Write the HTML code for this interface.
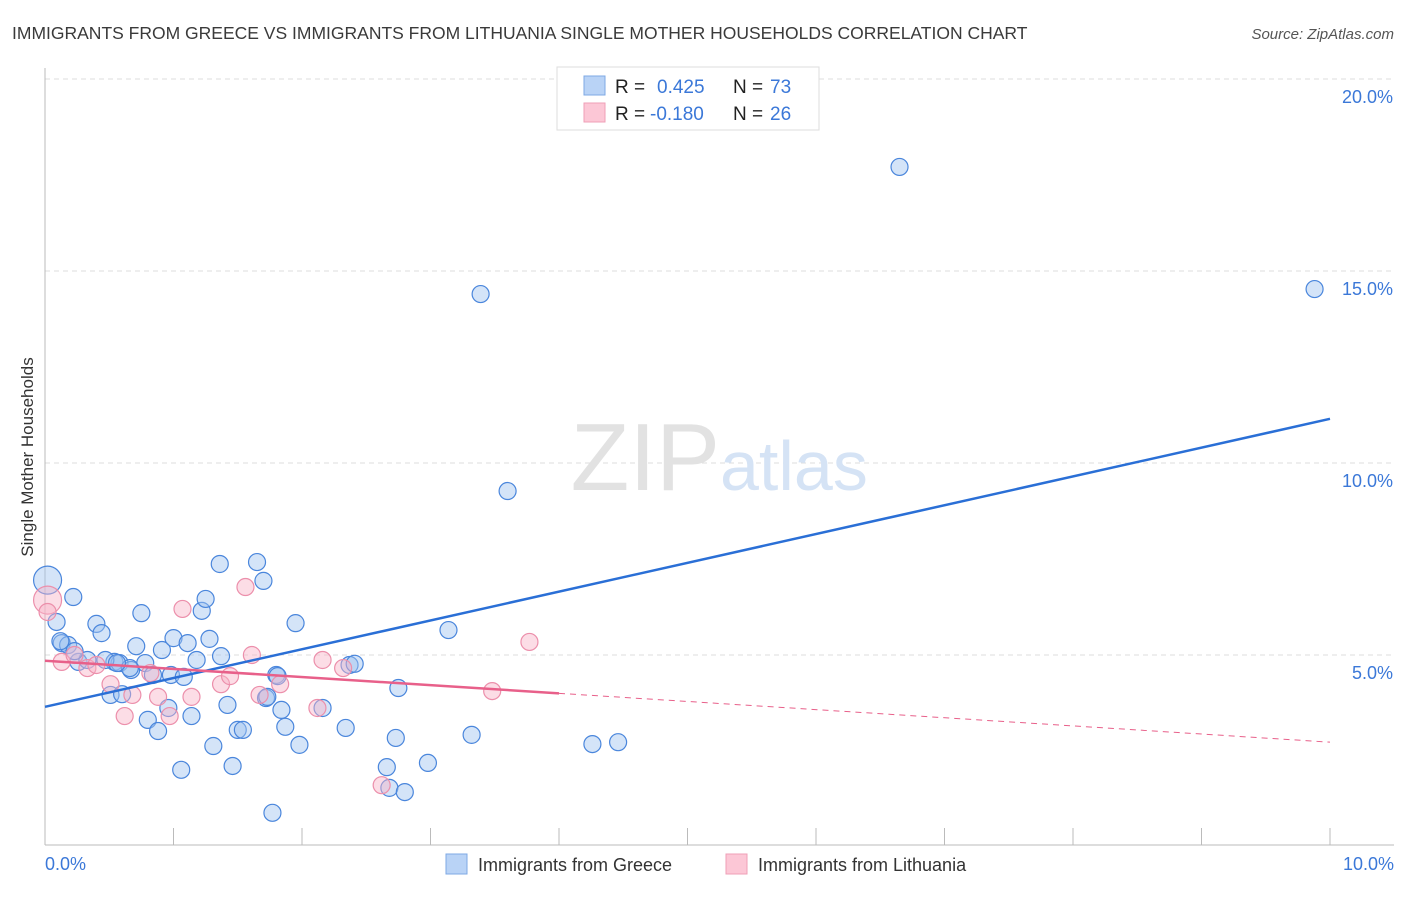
<!DOCTYPE html>
<html><head><meta charset="utf-8"><style>
body{margin:0;background:#fff;font-family:"Liberation Sans",sans-serif}
svg text{font-family:"Liberation Sans",sans-serif}
</style></head><body>
<svg id="c" width="1406" height="892">
<text x="12" y="39" font-size="17.5" fill="#3a3a3a">IMMIGRANTS FROM GREECE VS IMMIGRANTS FROM LITHUANIA SINGLE MOTHER HOUSEHOLDS CORRELATION CHART</text>
<text x="1394" y="39" font-size="15" fill="#555" font-style="italic" text-anchor="end">Source: ZipAtlas.com</text>
<text x="33" y="457" font-size="17" fill="#333" transform="rotate(-90 33 457)" text-anchor="middle">Single Mother Households</text>
<g id="grid"></g>
<text x="720" y="490" font-size="96" fill="#e2e2e2" text-anchor="end" font-family="Liberation Serif">ZIP</text>
<text x="720" y="490" font-size="70" fill="#d5e3f5">atlas</text>
<g id="pts"></g>
<g id="lines"></g>
<g>
<rect x="557" y="67" width="262" height="63" fill="#fff" stroke="#ddd"/>
<rect x="584" y="76" width="21" height="19" fill="#b9d3f6" stroke="#7ea8e4"/>
<rect x="584" y="103" width="21" height="19" fill="#fcc7d6" stroke="#ef9fb7"/>
<text x="615" y="93" font-size="19" fill="#222">R = </text><text x="657" y="93" font-size="19" fill="#3b78d8">0.425</text>
<text x="733" y="93" font-size="19" fill="#222">N = </text><text x="770" y="93" font-size="19" fill="#3b78d8">73</text>
<text x="615" y="120" font-size="19" fill="#222">R = </text><text x="650" y="120" font-size="19" fill="#3b78d8">-0.180</text>
<text x="733" y="120" font-size="19" fill="#222">N = </text><text x="770" y="120" font-size="19" fill="#3b78d8">26</text>
</g>
<g>
<rect x="446" y="854" width="21" height="20" fill="#b9d3f6" stroke="#7ea8e4"/>
<text x="478" y="871" font-size="18" fill="#333">Immigrants from Greece</text>
<rect x="726" y="854" width="21" height="20" fill="#fcc7d6" stroke="#ef9fb7"/>
<text x="758" y="871" font-size="18" fill="#333">Immigrants from Lithuania</text>
</g>
</svg>
<script>
const yTicks=[5,10,15,20];
const xTickLabels=["0.0%","10.0%"];
const greeceX=[0.02,0.22,0.09,0.13,0.18,0.40,0.44,0.75,0.71,0.91,1.00,1.11,1.22,1.25,1.36,1.65,1.70,1.28,1.37,1.95,3.14,0.26,0.33,0.54,0.58,0.67,0.78,0.84,0.98,1.08,1.18,0.51,0.60,0.96,1.14,1.42,1.72,1.80,1.84,0.80,0.88,1.50,1.54,1.87,2.34,2.37,2.41,2.16,2.75,1.31,1.98,2.73,3.32,4.26,4.46,1.06,1.46,2.66,2.98,2.68,2.80,1.77,3.60,3.39,6.65,9.88,1.73,1.81,0.66,0.12,0.47,0.56,0.23];
const greeceY=[6.95,6.51,5.86,5.31,5.26,5.81,5.57,6.09,5.23,5.13,5.44,5.31,6.15,6.46,7.37,7.42,6.93,5.42,4.97,5.83,5.65,4.82,4.87,4.82,4.79,4.61,4.79,4.48,4.48,4.43,4.87,3.96,3.98,3.62,3.41,3.70,3.88,4.48,3.57,3.31,3.02,3.05,3.05,3.13,3.10,4.74,4.77,3.62,4.14,2.63,2.66,2.84,2.92,2.68,2.73,2.01,2.11,2.08,2.19,1.54,1.43,0.89,9.27,14.40,17.71,14.53,3.91,4.45,4.66,5.36,4.87,4.79,5.10];
const lithX=[0.02,0.02,0.13,0.23,0.33,0.40,0.51,0.62,0.68,0.88,0.97,1.07,1.14,1.37,1.44,1.56,1.61,1.67,1.83,2.12,2.16,2.32,2.62,3.48,3.77,0.82];
const lithY=[6.43,6.12,4.82,5.00,4.66,4.74,4.24,3.41,3.96,3.91,3.41,6.20,3.91,4.24,4.45,6.77,5.00,3.96,4.24,3.62,4.87,4.66,1.61,4.06,5.34,4.53];
const greeceTrend=[3.65,11.15]; // value at x=0 and x=10
const lithTrend=[4.85,2.73];
const lithSolidEnd=4;
const X=v=>45+128.5*v, Y=v=>847-38.4*v;
const NS="http://www.w3.org/2000/svg";
function mk(t,a,p){const e=document.createElementNS(NS,t);for(const k in a)e.setAttribute(k,a[k]);p.appendChild(e);return e;}
const grid=document.getElementById('grid');
yTicks.forEach(t=>{
 const l=mk('line',{x1:45,x2:1394,y1:Y(t),y2:Y(t),stroke:'#ddd','stroke-dasharray':'5,4'},grid);
 
 
 const tx=mk('text',{x:1393,y:Y(t)+24,'font-size':18,fill:'#3b78d8','text-anchor':'end'},grid);
 tx.textContent=t.toFixed(1)+'%';
 
 
});
const ax=mk('line',{x1:45,x2:1394,y1:845,y2:845,stroke:'#bbb'},grid);


const ay=mk('line',{x1:45,x2:45,y1:68,y2:845,stroke:'#bbb'},grid);


for(let k=0;k<=10;k++){const t=mk('line',{x1:X(k),x2:X(k),y1:828,y2:845,stroke:'#bbb'},grid);
 
 }
[[0,'start',45],[10,'end',1394]].forEach((d,i)=>{const t=mk('text',{x:d[2],y:870,'font-size':18,fill:'#3b78d8','text-anchor':d[1]},grid);t.textContent=xTickLabels[i];
 
 });
const pts=document.getElementById('pts');
greeceX.forEach((x,i)=>{const c=mk('circle',{cx:X(x),cy:Y(greeceY[i]),r:i==0?14:8.5,fill:'rgba(160,196,240,0.45)',stroke:'#4a86dc','stroke-width':1.2},pts);
 
 });
lithX.forEach((x,i)=>{const c=mk('circle',{cx:X(x),cy:Y(lithY[i]),r:i==0?14:8.5,fill:'rgba(248,180,200,0.45)',stroke:'#ec8fab','stroke-width':1.2},pts);
 
 });
const ln=document.getElementById('lines');
const b=mk('line',{x1:X(0),y1:Y(greeceTrend[0]),x2:X(10),y2:Y(greeceTrend[1]),stroke:'#2a6fd6','stroke-width':2.5},ln);


const lv=x=>lithTrend[0]+(lithTrend[1]-lithTrend[0])*x/10;
const p1=mk('line',{x1:X(0),y1:Y(lv(0)),x2:X(lithSolidEnd),y2:Y(lv(lithSolidEnd)),stroke:'#e8608a','stroke-width':2.5},ln);


const p2=mk('line',{x1:X(lithSolidEnd),y1:Y(lv(lithSolidEnd)),x2:X(10),y2:Y(lv(10)),stroke:'#e8608a','stroke-width':1,'stroke-dasharray':'6,5'},ln);


</script>
</body></html>
